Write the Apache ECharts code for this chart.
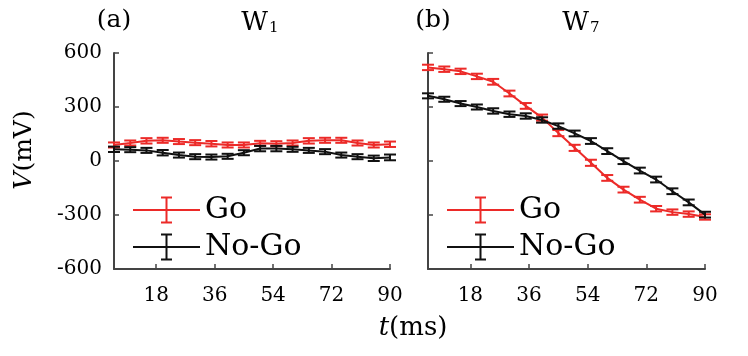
<!DOCTYPE html>
<html>
<head>
<meta charset="utf-8">
<script src="https://cdn.jsdelivr.net/npm/echarts@6/dist/echarts.min.js"></script>
<style>html,body{margin:0;padding:0;background:#fff;}#c{width:748px;height:356px;}</style>
</head>
<body>
<div id="c"></div>
<script>
// ---- data ----
const times = [5,10,15,20,25,30,35,40,45,50,55,60,65,70,75,80,85,90];
const goW1   = [89,100,112,115,108,102,96,89,89,98,96,100,112,115,115,100,89,93];
const nogoW1 = [65,63,59,46,33,24,22,26,46,69,69,65,59,52,33,24,15,20];
const goErrW1   = [14,14,15,14,14,14,15,14,14,14,14,14,15,14,14,14,14,15];
const nogoErrW1 = [15,14,14,15,14,14,14,14,14,15,15,14,14,14,14,14,15,16];
const goW7   = [520,510,498,470,440,375,306,241,155,73,-10,-94,-159,-215,-265,-284,-295,-311];
const nogoW7 = [362,343,319,300,278,260,250,228,194,153,111,55,-1,-53,-103,-168,-230,-298];
const goErrW7   = [15,15,15,15,16,16,16,17,17,17,17,16,16,16,15,15,15,15];
const nogoErrW7 = [14,14,14,14,15,15,15,15,15,16,16,16,16,16,16,16,16,16];
const xTicks = [18,36,54,72,90];
const yMin = -600, yMax = 600, yStep = 300;

const RED = '#ec2a28', BLACK = '#111111', AXIS = '#444444';
const FONT = 'DejaVu Serif';

function pairs(vals){ return times.map((t,i)=>[t, vals[i]]); }
function triples(vals, errs){ return times.map((t,i)=>[t, vals[i], errs[i]]); }

function errRender(params, api){
  const x = api.value(0), y = api.value(1), e = api.value(2);
  const hi = api.coord([x, y + e]), lo = api.coord([x, y - e]);
  const c = api.visual('color');
  const hw = 6;
  const st = {stroke: c, lineWidth: 2};
  return {type:'group', children:[
    {type:'line', shape:{x1:hi[0], y1:hi[1], x2:lo[0], y2:lo[1]}, style:st},
    {type:'line', shape:{x1:hi[0]-hw, y1:hi[1], x2:hi[0]+hw, y2:hi[1]}, style:st},
    {type:'line', shape:{x1:lo[0]-hw, y1:lo[1], x2:lo[0]+hw, y2:lo[1]}, style:st}
  ]};
}

const ICON = 'path://M0 12.5H67V14.5H0Z M32.5 1H34.5V26H32.5Z M28 0H39V2H28Z M28 25H39V27H28Z';

function xAx(idx){
  return {type:'value', gridIndex:idx, min:5, max:90,
    axisLine:{show:true, onZero:false, lineStyle:{color:AXIS, width:2}},
    axisTick:{show:true, inside:true, length:5, customValues:xTicks, lineStyle:{color:AXIS, width:1.5}},
    axisLabel:{show:true, customValues:xTicks, margin:17, color:'#000', fontFamily:FONT, fontSize:20},
    splitLine:{show:false}};
}
function yAx(idx, labels){
  return {type:'value', gridIndex:idx, min:yMin, max:yMax, interval:yStep,
    axisLine:{show:true, onZero:false, lineStyle:{color:AXIS, width:2}},
    axisTick:{show:true, inside:true, length:5, lineStyle:{color:AXIS, width:1.5}},
    axisLabel:{show:labels, margin:12, color:'#000', fontFamily:FONT, fontSize:20},
    splitLine:{show:false}};
}
function seriesFor(idx, go, goErr, nogo, nogoErr){
  return [
    {type:'line', name:'Go line', xAxisIndex:idx, yAxisIndex:idx, data:pairs(go), showSymbol:false, symbol:'none', lineStyle:{color:RED, width:2}, itemStyle:{color:RED}, z:2, animation:false},
    {type:'custom', name:'Go', xAxisIndex:idx, yAxisIndex:idx, data:triples(go, goErr), encode:{x:0, y:1}, renderItem:errRender, itemStyle:{color:RED}, z:2, animation:false},
    {type:'line', name:'No-Go line', xAxisIndex:idx, yAxisIndex:idx, data:pairs(nogo), showSymbol:false, symbol:'none', lineStyle:{color:BLACK, width:2}, itemStyle:{color:BLACK}, z:3, animation:false},
    {type:'custom', name:'No-Go', xAxisIndex:idx, yAxisIndex:idx, data:triples(nogo, nogoErr), encode:{x:0, y:1}, renderItem:errRender, itemStyle:{color:BLACK}, z:3, animation:false}
  ];
}
function legendAt(left){
  return {orient:'vertical', left:left, top:195, padding:0, itemWidth:67, itemHeight:27, itemGap:7,
    selectedMode:false,
    itemStyle:{borderWidth:0},
    textStyle:{fontFamily:FONT, fontSize:30, color:'#000', lineHeight:30},
    data:[{name:'Go', icon:ICON}, {name:'No-Go', icon:ICON}]};
}

const titleRich = {
  w:{fontFamily:FONT, fontSize:26, color:'#000', lineHeight:32, verticalAlign:'bottom'},
  s:{fontFamily:FONT, fontSize:15, color:'#000', lineHeight:15, verticalAlign:'bottom', padding:[0,0,0,1]},
  p:{fontFamily:FONT, fontSize:25, color:'#000', lineHeight:32},
  i:{fontFamily:FONT, fontSize:25, fontStyle:'italic', color:'#000', lineHeight:32}
};

const chart = echarts.init(document.getElementById('c'), null, {renderer:'canvas'});
chart.setOption({
  animation:false,
  backgroundColor:'#fff',
  grid:[
    {left:114, top:53, width:276, height:216},
    {left:428, top:53, width:277, height:216}
  ],
  xAxis:[xAx(0), xAx(1)],
  yAxis:[yAx(0, true), yAx(1, false)],
  legend:[legendAt(133), legendAt(447)],
  series:[].concat(
    seriesFor(0, goW1, goErrW1, nogoW1, nogoErrW1),
    seriesFor(1, goW7, goErrW7, nogoW7, nogoErrW7)
  ),
  graphic:[
    {type:'text', x:114, y:20, style:{text:'(a)', font:'25px "DejaVu Serif"', fill:'#000', textAlign:'center', textVerticalAlign:'middle'}},
    {type:'text', x:260, y:20, style:{text:'{w|W}{s|1}', rich:titleRich, textAlign:'center', textVerticalAlign:'middle'}},
    {type:'text', x:433, y:20, style:{text:'(b)', font:'25px "DejaVu Serif"', fill:'#000', textAlign:'center', textVerticalAlign:'middle'}},
    {type:'text', x:581, y:20, style:{text:'{w|W}{s|7}', rich:titleRich, textAlign:'center', textVerticalAlign:'middle'}},
    {type:'text', x:24, y:150, rotation:Math.PI/2, style:{text:'{i|V}{p|(mV)}', rich:titleRich, textAlign:'center', textVerticalAlign:'middle'}},
    {type:'text', x:413, y:328, style:{text:'{i|t}{p|(ms)}', rich:{
      i:{fontFamily:FONT, fontSize:26, fontStyle:'italic', color:'#000'},
      p:{fontFamily:FONT, fontSize:26, color:'#000'}}, textAlign:'center', textVerticalAlign:'middle'}}
  ]
});
</script>
</body>
</html>
